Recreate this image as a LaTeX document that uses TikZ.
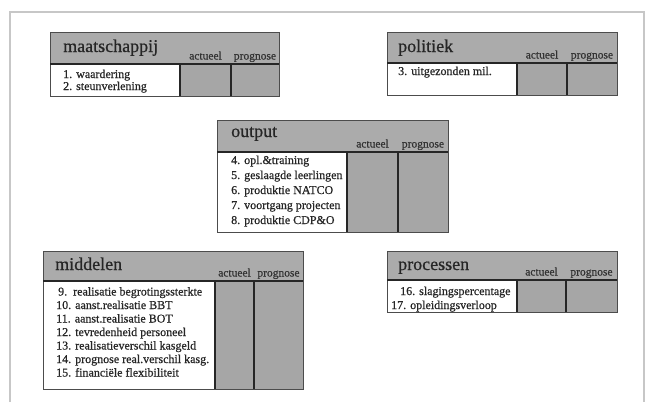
\documentclass[tikz,border=0pt]{standalone}
\usepackage{fontspec}
\setmainfont[FakeBold=0.6]{Liberation Serif}
\definecolor{hdrgray}{gray}{0.67}
\definecolor{cellgray}{gray}{0.65}
\definecolor{framegray}{gray}{0.78}
\definecolor{edgegray}{gray}{0.30}
\tikzset{
  hdr/.style={fill=hdrgray},
  cell/.style={fill=cellgray},
  outline/.style={draw=edgegray, line width=0.9pt},
  rule/.style={draw=black!85, line width=1.4pt},
  title/.style={anchor=base west, inner sep=0pt, text=black!85, font=\fontsize{18}{20}\selectfont},
  colhead/.style={anchor=base, inner sep=0pt, text=black!80, font=\fontsize{11.5}{13}\selectfont},
  item/.style={anchor=base west, inner sep=0pt, text=black!85, font=\fontsize{12}{14}\selectfont},
}
% panel: left, top, right, bottom, header line, first divider, second divider
\newcommand{\drawpanel}[7]{%
  \fill[hdr] (#1,#2) rectangle (#3,#5);
  \fill[cell] (#6,#5) rectangle (#3,#4);
  \draw[outline] (#1,#2) rectangle (#3,#4);
  \draw[rule] (#1,#5) -- (#3,#5);
  \draw[rule] (#6,#5) -- (#6,#4);
  \draw[rule] (#7,#5) -- (#7,#4);
  \node[colhead] at ({(#6+#7)/2},{#5-4.5}) {actueel};
  \node[colhead] at ({(#7+#3)/2},{#5-4.5}) {prognose};
}
\begin{document}
\begin{tikzpicture}[x=1pt, y=-1pt]
\useasboundingbox (0,0) rectangle (647,402);
\fill[white] (0,0) rectangle (647,402);
% page frame
\draw[framegray, line width=1.3pt] (10,402) -- (10,12) -- (644,12) -- (644,402);

% maatschappij
\drawpanel{50}{32}{279}{96}{64}{180}{231}
\node[title] (tm) at (63,52) {maatschappij};
\node[item] (m1) at (63,78) {1. waardering};
\node[item] (m2) at (63,90) {2. steunverlening};

% politiek
\drawpanel{387}{32}{617}{95}{63}{517}{567}
\node[title] (tp) at (398,52) {politiek};
\node[item] (p3) at (398,75) {3. uitgezonden mil.};

% output
\drawpanel{217}{120}{448}{232}{152}{347}{398}
\node[title] (to) at (231,137) {output};
\node[item] (o4) at (231,164) {4. opl.\&training};
\node[item] (o5) at (231,179) {5. geslaagde leerlingen};
\node[item] (o6) at (231,194) {6. produktie NATCO};
\node[item] (o7) at (231,209) {7. voortgang projecten};
\node[item] (o8) at (231,224) {8. produktie CDP\&O};

% middelen
\drawpanel{43}{251}{303}{389}{281}{215}{254}
\node[title] (tmi) at (55,270) {middelen};
\node[item] (r9)  at (58,295.5) {9.\ \ realisatie begrotingssterkte};
\node[item] (r10) at (56,309)   {10. aanst.realisatie BBT};
\node[item] (r11) at (56,322.5) {11. aanst.realisatie BOT};
\node[item] (r12) at (56,336)   {12. tevredenheid personeel};
\node[item] (r13) at (56,349.5) {13. realisatieverschil kasgeld};
\node[item] (r14) at (56,363)   {14. prognose real.verschil kasg.};
\node[item] (r15) at (56,376.5) {15. financiële flexibiliteit};

% processen
\drawpanel{387}{251}{617}{312}{280}{517}{566}
\node[title] (tpr) at (398,270) {processen};
\node[item] (s16) at (400,295) {16. slagingspercentage};
\node[item] (s17) at (391,309) {17. opleidingsverloop};
\end{tikzpicture}
\end{document}
